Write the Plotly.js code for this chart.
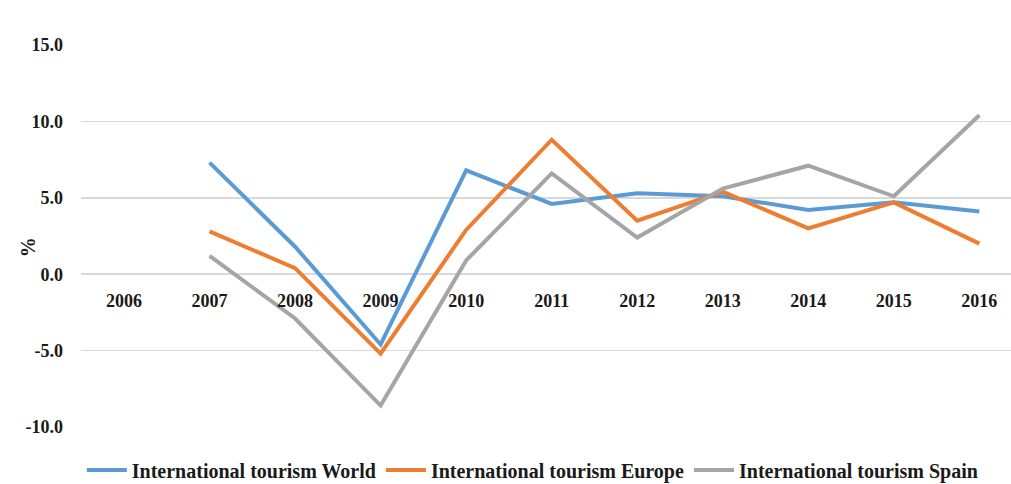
<!DOCTYPE html>
<html>
<head>
<meta charset="utf-8">
<script src="https://cdn.plot.ly/plotly-3.0.1.min.js"></script>
<style>html,body{margin:0;padding:0;background:#fff;}#chart{width:1011px;height:484px;}</style>
</head>
<body>
<div id="chart"></div>
<script>
const years = ["2006","2007","2008","2009","2010","2011","2012","2013","2014","2015","2016"];
const world  = [null, 7.3, 1.8, -4.6, 6.8, 4.6, 5.3, 5.1, 4.2, 4.7, 4.1];
const europe = [null, 2.8, 0.4, -5.2, 2.9, 8.8, 3.5, 5.4, 3.0, 4.7, 2.0];
const spain  = [null, 1.2, -2.9, -8.6, 0.9, 6.6, 2.4, 5.6, 7.1, 5.1, 10.4];
const seriesNames = ["International tourism World", "International tourism Europe", "International tourism Spain"];
const yTicks = [-10, -5, 0, 5, 10, 15];
const yTickText = ["-10.0", "-5.0", "0.0", "5.0", "10.0", "15.0"];
const yTitle = "%";

const colors = ["#5B9BD5", "#ED7D31", "#A5A5A5"];
const data = [world, europe, spain].map((v, i) => ({
  x: years, y: v, type: "scatter", mode: "lines", name: seriesNames[i],
  line: {color: colors[i], width: 4}, connectgaps: false
}));

const font = {family: "Liberation Serif, Times New Roman, serif", size: 18, color: "#1a1a1a", weight: "bold"};
const layout = {
  width: 1011, height: 484,
  margin: {l: 81, r: 0, t: 45, b: 57, autoexpand: false},
  paper_bgcolor: "#fff", plot_bgcolor: "#fff",
  font: font,
  showlegend: true,
  legend: {orientation: "h", x: 0.527, xanchor: "center", xref: "container", y: 0.029, yref: "container", yanchor: "middle",
           font: {family: font.family, size: 20, color: "#1a1a1a", weight: "bold"}, itemwidth: 40, tracegroupgap: 0},
  xaxis: {type: "category", range: [-0.503, 10.37], anchor: "free", position: 0.4,
          showgrid: false, showline: false, zeroline: false, ticks: "", ticklabelstandoff: 14,
          tickfont: font, fixedrange: true},
  yaxis: {range: [-10, 15], tickvals: yTicks, ticktext: yTickText, showgrid: true, gridcolor: "#d9d9d9", gridwidth: 1.5,
          zeroline: true, zerolinecolor: "#d9d9d9", zerolinewidth: 1.5, showline: false, ticks: "",
          ticklabelstandoff: 17, tickfont: font},
  annotations: [{text: yTitle, xref: "paper", x: (28 - 81) / 930, xanchor: "center", yref: "y", y: 1.77, yanchor: "middle",
                 textangle: -90, showarrow: false, font: {family: font.family, size: 20, color: "#1a1a1a", weight: "bold"}}]
};
Plotly.newPlot("chart", data, layout, {displayModeBar: false, staticPlot: true});
</script>
</body>
</html>
